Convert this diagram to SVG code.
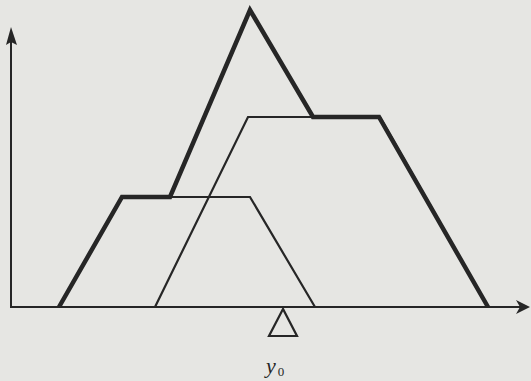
<svg xmlns="http://www.w3.org/2000/svg" width="531" height="381" viewBox="0 0 531 381">
<style>
.thin{fill:none;stroke:#262626;stroke-width:2.2;stroke-linejoin:miter}
.thick{fill:none;stroke:#262626;stroke-width:4.5;stroke-linejoin:miter}
.ax{fill:none;stroke:#262626;stroke-width:2}
.lbl{font-family:"Liberation Serif",serif;font-style:italic;fill:#262626}
</style>
<rect width="531" height="381" fill="#e6e6e3"/>
<g id="axes">
<line class="ax" x1="11" y1="308" x2="11" y2="34"/>
<path d="M11,27 L17,45 L11,42 L6,45 Z" fill="#262626"/>
<line class="ax" x1="10" y1="307" x2="524" y2="307"/>
<path d="M530,307 L516,300 L520,307 L516,314 Z" fill="#262626"/>
</g>
<g id="connectors">
<polyline id="trapA" class="thin" points="59,307 122,197 250,197 315,307"/>
<polyline id="trapB" class="thin" points="155,307 248,117 380,117 488,307"/>
<polyline id="envelope" class="thick" points="59,307 122,197 170,197 250,10 313,117 379,117 488,307"/>
</g>
<g id="marker-y0">
<polygon points="283,309 269,336 297,336" fill="none" stroke="#262626" stroke-width="2.2"/>
<text class="lbl" x="266" y="373" font-size="22">y<tspan font-size="13" dy="3" font-style="normal" dx="2">0</tspan></text>
</g>
</svg>
